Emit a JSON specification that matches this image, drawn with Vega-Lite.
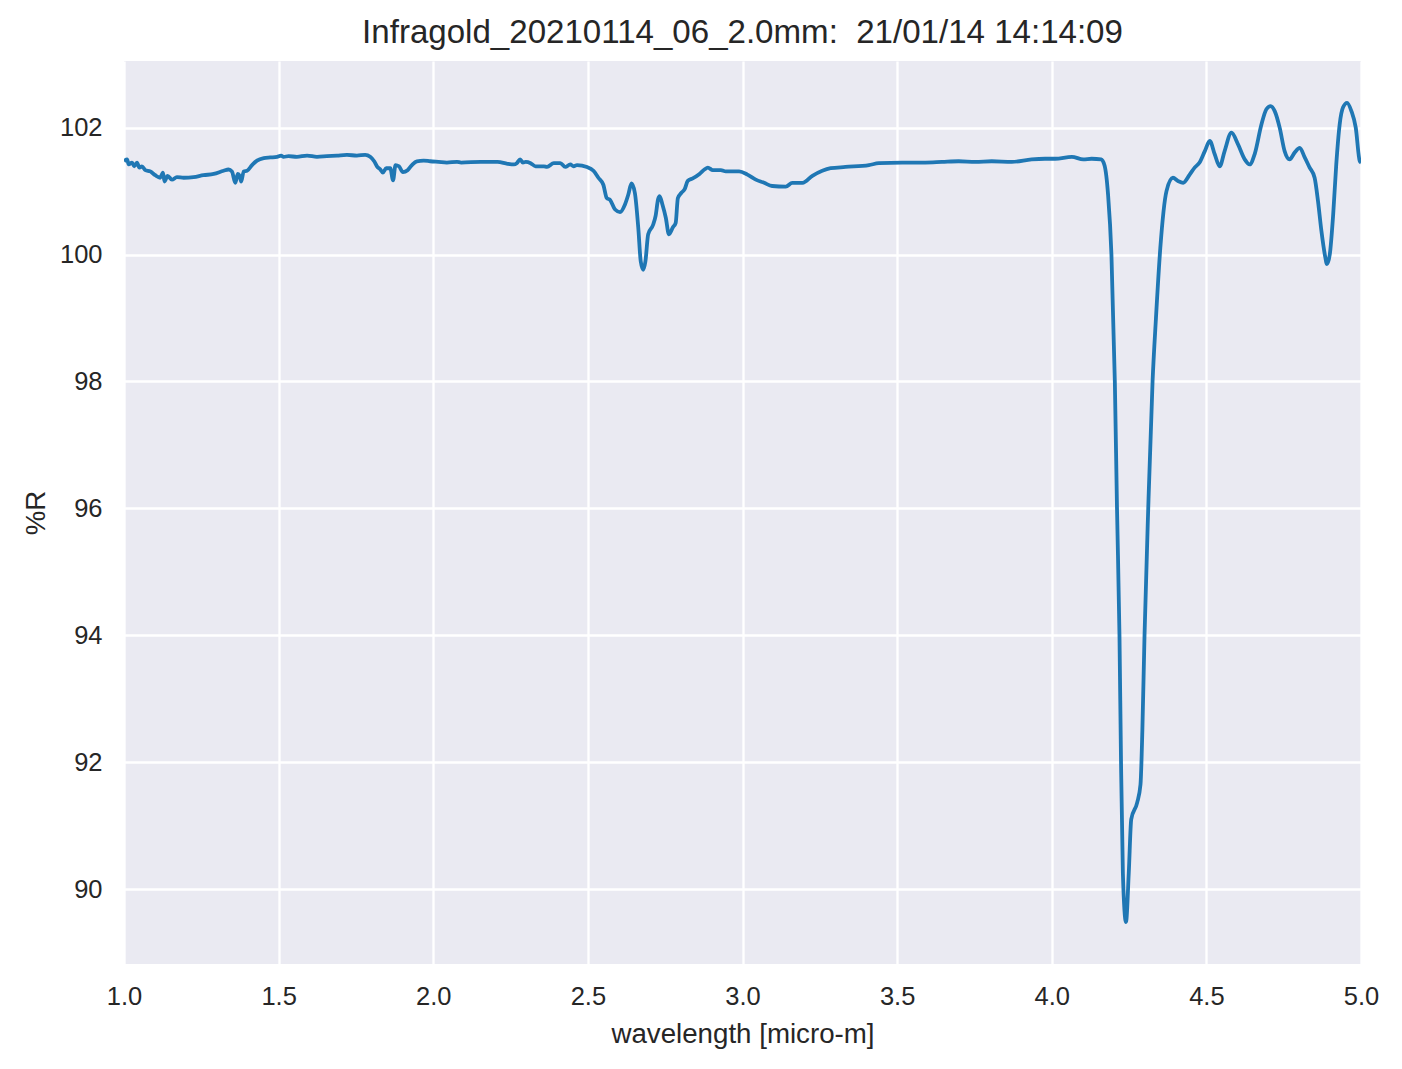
{
  "$schema": "https://vega.github.io/schema/vega-lite/v6.json",
  "width": 1237,
  "height": 903,
  "autosize": {"type": "none"},
  "padding": {"left": 124, "top": 61, "right": 41, "bottom": 105},
  "background": "white",
  "config": {
    "view": {"fill": "#EAEAF2", "stroke": null},
    "font": "Liberation Sans",
    "axis": {
      "domain": false,
      "ticks": false,
      "tickSize": 0,
      "gridColor": "#FFFFFF",
      "gridWidth": 2.3,
      "gridOpacity": 1,
      "labelFont": "Liberation Sans",
      "labelFontSize": 25.5,
      "labelColor": "#262626",
      "titleFont": "Liberation Sans",
      "titleFontSize": 27.7,
      "titleFontWeight": "normal",
      "titleColor": "#262626"
    }
  },
  "title": {
    "text": "Infragold_20210114_06_2.0mm:\u00a0 21/01/14 14:14:09",
    "font": "Liberation Sans",
    "fontSize": 33.1,
    "fontWeight": "normal",
    "color": "#262626",
    "anchor": "middle",
    "frame": "group",
    "baseline": "alphabetic",
    "offset": 18,
    "dy": 33
  },
  "data": {
    "values": [
      {"wavelength": 1.0, "R": 101.47},
      {"wavelength": 1.01, "R": 101.5},
      {"wavelength": 1.015, "R": 101.42},
      {"wavelength": 1.026, "R": 101.45},
      {"wavelength": 1.033, "R": 101.39},
      {"wavelength": 1.042, "R": 101.45},
      {"wavelength": 1.05, "R": 101.37},
      {"wavelength": 1.058, "R": 101.39},
      {"wavelength": 1.069, "R": 101.33},
      {"wavelength": 1.085, "R": 101.31},
      {"wavelength": 1.101, "R": 101.25},
      {"wavelength": 1.117, "R": 101.21},
      {"wavelength": 1.126, "R": 101.29},
      {"wavelength": 1.131, "R": 101.15},
      {"wavelength": 1.141, "R": 101.24},
      {"wavelength": 1.155, "R": 101.18},
      {"wavelength": 1.171, "R": 101.22},
      {"wavelength": 1.193, "R": 101.21},
      {"wavelength": 1.225, "R": 101.22},
      {"wavelength": 1.257, "R": 101.25},
      {"wavelength": 1.29, "R": 101.27},
      {"wavelength": 1.322, "R": 101.32},
      {"wavelength": 1.338, "R": 101.34},
      {"wavelength": 1.349, "R": 101.31},
      {"wavelength": 1.36, "R": 101.13},
      {"wavelength": 1.368, "R": 101.27},
      {"wavelength": 1.374, "R": 101.24},
      {"wavelength": 1.379, "R": 101.15},
      {"wavelength": 1.387, "R": 101.31},
      {"wavelength": 1.398, "R": 101.32},
      {"wavelength": 1.414, "R": 101.41},
      {"wavelength": 1.43, "R": 101.48},
      {"wavelength": 1.452, "R": 101.52},
      {"wavelength": 1.473, "R": 101.53},
      {"wavelength": 1.495, "R": 101.54},
      {"wavelength": 1.508, "R": 101.56},
      {"wavelength": 1.516, "R": 101.54},
      {"wavelength": 1.532, "R": 101.55},
      {"wavelength": 1.559, "R": 101.54},
      {"wavelength": 1.592, "R": 101.56},
      {"wavelength": 1.624, "R": 101.54},
      {"wavelength": 1.656, "R": 101.55},
      {"wavelength": 1.689, "R": 101.56},
      {"wavelength": 1.721, "R": 101.57},
      {"wavelength": 1.753, "R": 101.56},
      {"wavelength": 1.78, "R": 101.57},
      {"wavelength": 1.796, "R": 101.54},
      {"wavelength": 1.809, "R": 101.47},
      {"wavelength": 1.818, "R": 101.39},
      {"wavelength": 1.829, "R": 101.34},
      {"wavelength": 1.837, "R": 101.29},
      {"wavelength": 1.848, "R": 101.36},
      {"wavelength": 1.861, "R": 101.36},
      {"wavelength": 1.87, "R": 101.17},
      {"wavelength": 1.878, "R": 101.41},
      {"wavelength": 1.889, "R": 101.39},
      {"wavelength": 1.902, "R": 101.3},
      {"wavelength": 1.917, "R": 101.33},
      {"wavelength": 1.931, "R": 101.41},
      {"wavelength": 1.947, "R": 101.47},
      {"wavelength": 1.969, "R": 101.48},
      {"wavelength": 1.99, "R": 101.47},
      {"wavelength": 2.017, "R": 101.46},
      {"wavelength": 2.044, "R": 101.45},
      {"wavelength": 2.077, "R": 101.46},
      {"wavelength": 2.09, "R": 101.45},
      {"wavelength": 2.154, "R": 101.46},
      {"wavelength": 2.208, "R": 101.46},
      {"wavelength": 2.24, "R": 101.43},
      {"wavelength": 2.261, "R": 101.42},
      {"wavelength": 2.27, "R": 101.44},
      {"wavelength": 2.281, "R": 101.5},
      {"wavelength": 2.29, "R": 101.45},
      {"wavelength": 2.299, "R": 101.46},
      {"wavelength": 2.315, "R": 101.44},
      {"wavelength": 2.331, "R": 101.39},
      {"wavelength": 2.358, "R": 101.39},
      {"wavelength": 2.368, "R": 101.38},
      {"wavelength": 2.39, "R": 101.44},
      {"wavelength": 2.411, "R": 101.44},
      {"wavelength": 2.427, "R": 101.38},
      {"wavelength": 2.443, "R": 101.42},
      {"wavelength": 2.454, "R": 101.39},
      {"wavelength": 2.465, "R": 101.41},
      {"wavelength": 2.497, "R": 101.38},
      {"wavelength": 2.518, "R": 101.32},
      {"wavelength": 2.534, "R": 101.21},
      {"wavelength": 2.55, "R": 101.1},
      {"wavelength": 2.561, "R": 100.89},
      {"wavelength": 2.572, "R": 100.86},
      {"wavelength": 2.588, "R": 100.71},
      {"wavelength": 2.604, "R": 100.67},
      {"wavelength": 2.62, "R": 100.79},
      {"wavelength": 2.631, "R": 100.95},
      {"wavelength": 2.641, "R": 101.12},
      {"wavelength": 2.652, "R": 100.97},
      {"wavelength": 2.663, "R": 100.42},
      {"wavelength": 2.671, "R": 99.89},
      {"wavelength": 2.679, "R": 99.76},
      {"wavelength": 2.686, "R": 99.89},
      {"wavelength": 2.695, "R": 100.32},
      {"wavelength": 2.711, "R": 100.47},
      {"wavelength": 2.719, "R": 100.61},
      {"wavelength": 2.727, "R": 100.87},
      {"wavelength": 2.732, "R": 100.92},
      {"wavelength": 2.741, "R": 100.79},
      {"wavelength": 2.752, "R": 100.58},
      {"wavelength": 2.762, "R": 100.32},
      {"wavelength": 2.775, "R": 100.43},
      {"wavelength": 2.784, "R": 100.5},
      {"wavelength": 2.791, "R": 100.89},
      {"wavelength": 2.802, "R": 100.97},
      {"wavelength": 2.813, "R": 101.03},
      {"wavelength": 2.823, "R": 101.16},
      {"wavelength": 2.839, "R": 101.2},
      {"wavelength": 2.861, "R": 101.27},
      {"wavelength": 2.877, "R": 101.34},
      {"wavelength": 2.888, "R": 101.37},
      {"wavelength": 2.904, "R": 101.33},
      {"wavelength": 2.93, "R": 101.33},
      {"wavelength": 2.946, "R": 101.31},
      {"wavelength": 2.968, "R": 101.31},
      {"wavelength": 2.989, "R": 101.31},
      {"wavelength": 3.016, "R": 101.26},
      {"wavelength": 3.043, "R": 101.18},
      {"wavelength": 3.07, "R": 101.13},
      {"wavelength": 3.096, "R": 101.08},
      {"wavelength": 3.14, "R": 101.07},
      {"wavelength": 3.161, "R": 101.13},
      {"wavelength": 3.194, "R": 101.13},
      {"wavelength": 3.226, "R": 101.24},
      {"wavelength": 3.258, "R": 101.32},
      {"wavelength": 3.285, "R": 101.36},
      {"wavelength": 3.333, "R": 101.38},
      {"wavelength": 3.409, "R": 101.41},
      {"wavelength": 3.441, "R": 101.44},
      {"wavelength": 3.516, "R": 101.45},
      {"wavelength": 3.591, "R": 101.45},
      {"wavelength": 3.645, "R": 101.46},
      {"wavelength": 3.699, "R": 101.47},
      {"wavelength": 3.753, "R": 101.46},
      {"wavelength": 3.806, "R": 101.47},
      {"wavelength": 3.871, "R": 101.46},
      {"wavelength": 3.935, "R": 101.5},
      {"wavelength": 3.978, "R": 101.51},
      {"wavelength": 4.011, "R": 101.51},
      {"wavelength": 4.065, "R": 101.54},
      {"wavelength": 4.102, "R": 101.5},
      {"wavelength": 4.129, "R": 101.51},
      {"wavelength": 4.16, "R": 101.5},
      {"wavelength": 4.171, "R": 101.4},
      {"wavelength": 4.182, "R": 100.95},
      {"wavelength": 4.193, "R": 100.0},
      {"wavelength": 4.204, "R": 98.0},
      {"wavelength": 4.211, "R": 96.0},
      {"wavelength": 4.219, "R": 94.0},
      {"wavelength": 4.224, "R": 92.0},
      {"wavelength": 4.23, "R": 90.25},
      {"wavelength": 4.24, "R": 89.48},
      {"wavelength": 4.249, "R": 90.25},
      {"wavelength": 4.257, "R": 91.1},
      {"wavelength": 4.276, "R": 91.36},
      {"wavelength": 4.287, "R": 91.65},
      {"wavelength": 4.293, "R": 92.5},
      {"wavelength": 4.3, "R": 94.0},
      {"wavelength": 4.312, "R": 96.0},
      {"wavelength": 4.326, "R": 98.0},
      {"wavelength": 4.337, "R": 99.0},
      {"wavelength": 4.351, "R": 100.1},
      {"wavelength": 4.371, "R": 101.0},
      {"wavelength": 4.392, "R": 101.21},
      {"wavelength": 4.408, "R": 101.16},
      {"wavelength": 4.425, "R": 101.13},
      {"wavelength": 4.446, "R": 101.26},
      {"wavelength": 4.462, "R": 101.37},
      {"wavelength": 4.478, "R": 101.45},
      {"wavelength": 4.495, "R": 101.63},
      {"wavelength": 4.511, "R": 101.79},
      {"wavelength": 4.527, "R": 101.58},
      {"wavelength": 4.543, "R": 101.39},
      {"wavelength": 4.559, "R": 101.63},
      {"wavelength": 4.581, "R": 101.92},
      {"wavelength": 4.602, "R": 101.74},
      {"wavelength": 4.624, "R": 101.5},
      {"wavelength": 4.64, "R": 101.42},
      {"wavelength": 4.656, "R": 101.58},
      {"wavelength": 4.678, "R": 102.05},
      {"wavelength": 4.694, "R": 102.29},
      {"wavelength": 4.708, "R": 102.34},
      {"wavelength": 4.721, "R": 102.26},
      {"wavelength": 4.737, "R": 102.0},
      {"wavelength": 4.753, "R": 101.63},
      {"wavelength": 4.769, "R": 101.5},
      {"wavelength": 4.786, "R": 101.61},
      {"wavelength": 4.802, "R": 101.68},
      {"wavelength": 4.818, "R": 101.53},
      {"wavelength": 4.834, "R": 101.37},
      {"wavelength": 4.85, "R": 101.21},
      {"wavelength": 4.861, "R": 100.84},
      {"wavelength": 4.872, "R": 100.37},
      {"wavelength": 4.883, "R": 100.0},
      {"wavelength": 4.89, "R": 99.85},
      {"wavelength": 4.899, "R": 100.0},
      {"wavelength": 4.91, "R": 100.63},
      {"wavelength": 4.92, "R": 101.42},
      {"wavelength": 4.931, "R": 102.05},
      {"wavelength": 4.942, "R": 102.32},
      {"wavelength": 4.955, "R": 102.39},
      {"wavelength": 4.969, "R": 102.26},
      {"wavelength": 4.983, "R": 102.0},
      {"wavelength": 4.996, "R": 101.47},
      {"wavelength": 5.0, "R": 101.45}
    ]
  },
  "mark": {"type": "line", "color": "#1f77b4", "strokeWidth": 3.8, "interpolate": "monotone", "clip": true},
  "encoding": {
    "x": {
      "field": "wavelength",
      "type": "quantitative",
      "scale": {"domain": [1, 5], "nice": false, "zero": false},
      "axis": {
        "title": "wavelength [micro-m]",
        "values": [1, 1.5, 2, 2.5, 3, 3.5, 4, 4.5, 5],
        "format": ".1f",
        "labelFlush": false,
        "labelBaseline": "alphabetic",
        "labelPadding": 40.5,
        "titleY": 78,
        "titleBaseline": "alphabetic"
      }
    },
    "y": {
      "field": "R",
      "type": "quantitative",
      "scale": {"domain": [88.82, 103.05], "nice": false, "zero": false},
      "axis": {
        "title": "%R",
        "values": [90, 92, 94, 96, 98, 100, 102],
        "labelPadding": 22,
        "titleX": -80,
        "titleBaseline": "alphabetic"
      }
    }
  }
}
